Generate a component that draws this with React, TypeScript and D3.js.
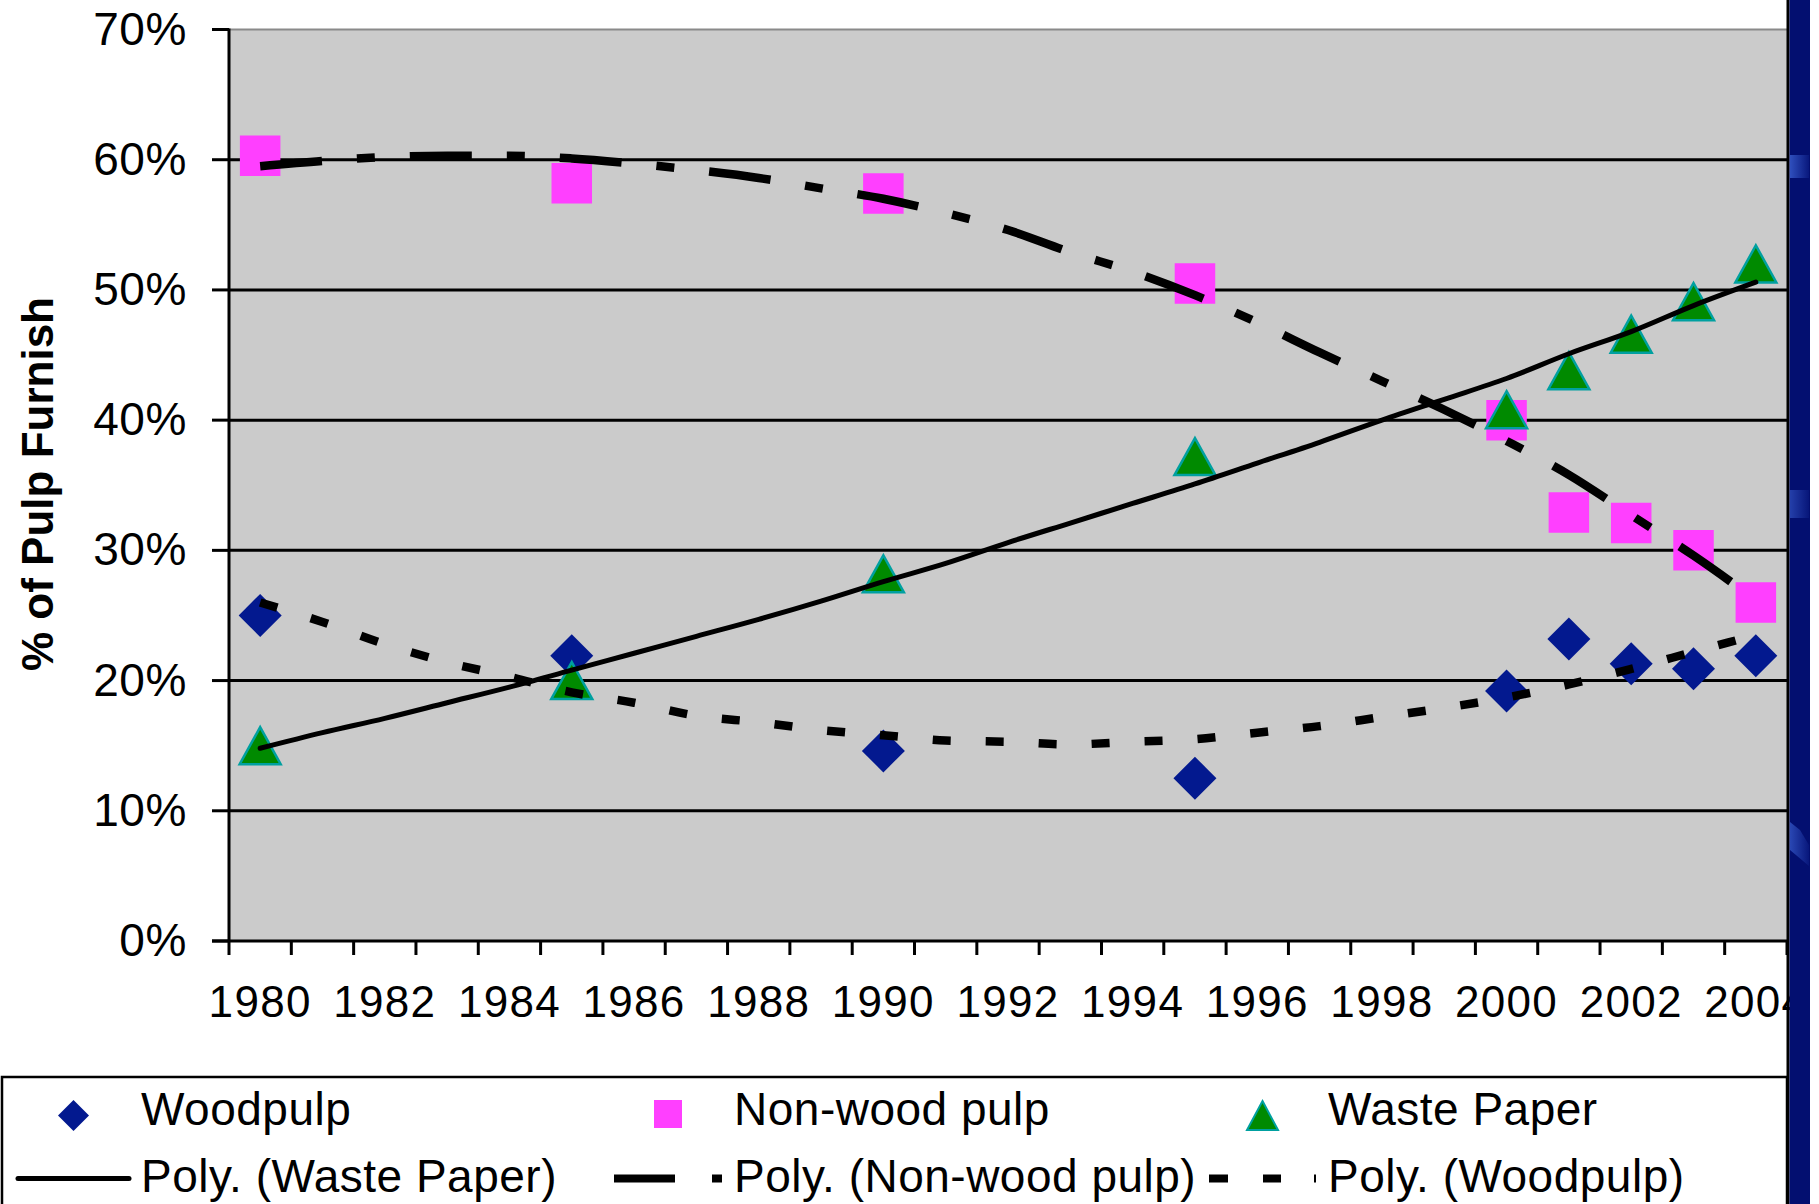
import React from 'react';
import * as d3 from 'd3';

const years = [1980, 1981, 1982, 1983, 1984, 1985, 1986, 1987, 1988, 1989, 1990, 1991, 1992, 1993, 1994, 1995, 1996, 1997, 1998, 1999, 2000, 2001, 2002, 2003, 2004];
const tickYears = [1980, 1982, 1984, 1986, 1988, 1990, 1992, 1994, 1996, 1998, 2000, 2002, 2004];
const yTicks = [0, 0.1, 0.2, 0.3, 0.4, 0.5, 0.6, 0.7];

const pointYears = [1980, 1985, 1990, 1995, 2000, 2001, 2002, 2003, 2004];
const woodpulp = [25.0, 21.9, 14.6, 12.5, 19.2, 23.2, 21.3, 20.9, 21.9];
const nonWood = [60.3, 58.2, 57.4, 50.5, 40.0, 32.9, 32.1, 30.0, 26.0];
const wastePaper = [15.0, 20.0, 28.2, 37.2, 40.8, 43.8, 46.6, 49.1, 52.0];

// trendline values, one per year 1980..2004
const trendWaste = [14.8, 16.0, 17.1, 18.3, 19.5, 20.8, 22.1, 23.4, 24.7, 26.1, 27.6, 29.0, 30.6, 32.1, 33.6, 35.1, 36.7, 38.3, 40.0, 41.6, 43.2, 45.1, 46.8, 48.8, 50.6];
const trendNonWood = [59.5, 59.9, 60.2, 60.3, 60.3, 60.1, 59.7, 59.2, 58.6, 57.8, 57.0, 55.9, 54.6, 52.9, 51.4, 49.6, 47.5, 45.2, 43.0, 40.8, 38.4, 35.8, 32.7, 29.6, 26.2];
const trendWood = [26.0, 24.5, 22.8, 21.4, 20.3, 19.1, 18.3, 17.3, 16.8, 16.2, 15.8, 15.4, 15.3, 15.1, 15.3, 15.5, 16.0, 16.5, 17.2, 17.9, 18.7, 19.7, 20.9, 22.2, 23.5];

const legendRow1 = ['Woodpulp', 'Non-wood pulp', 'Waste Paper'];
const legendRow2 = ['Poly. (Waste Paper)', 'Poly. (Non-wood pulp)', 'Poly. (Woodpulp)'];

const NAVY = '#03198f';
const MAGENTA = '#ff3fff';
const GREEN = '#008a00';
const TEAL = '#00a0a0';
const FONT = '"Liberation Sans", Arial, Helvetica, sans-serif';

const diamondPath = (cx: number, cy: number, r: number) =>
  `M${cx},${cy - r}L${cx + r},${cy}L${cx},${cy + r}L${cx - r},${cy}Z`;
const squarePath = (cx: number, cy: number, s: number) =>
  `M${cx - s / 2},${cy - s / 2}h${s}v${s}h${-s}Z`;
const trianglePath = (cx: number, cy: number, w: number, h: number) =>
  `M${cx},${cy - h / 2}L${cx + w / 2},${cy + h / 2}L${cx - w / 2},${cy + h / 2}Z`;

export default function App() {
  const W = 1819;
  const H = 1204;
  const left = 229;
  const right = 1787;
  const top = 29.5;
  const bottom = 941;

  const x = d3.scaleBand<number>().domain(years).range([left, right]).padding(0);
  const cx = (yr: number) => (x(yr) as number) + x.bandwidth() / 2;
  const y = d3.scaleLinear().domain([0, 0.7]).range([bottom, top]);

  const line = d3
    .line<number>()
    .x((_, i) => cx(years[i]))
    .y((d) => y(d / 100))
    .curve(d3.curveMonotoneX);

  const boundaries = years.map((yr) => x(yr) as number).concat([right]);

  const sampleStart = [18, 614, 1209];
  const sampleEnd = [129, 722, 1316];
  const textX = [141, 734, 1328];

  return (
    <svg
      width={W}
      height={H}
      viewBox={`0 0 ${W} ${H}`}
      style={{ position: 'absolute', left: 0, top: 0, background: '#fff' }}
    >
      <defs>
        <linearGradient id="hl" x1="0" x2="1" y1="0" y2="0">
          <stop offset="0" stopColor="#3a5fd0" />
          <stop offset="1" stopColor="#0a1a80" />
        </linearGradient>
      </defs>
      <rect x={0} y={0} width={W} height={H} fill="#fff" />

      {/* plot area */}
      <rect x={left} y={top} width={right - left} height={bottom - top} fill="#cbcbcb" />
      <line x1={left} x2={right} y1={top} y2={top} stroke="#8a8a8a" strokeWidth={2} />
      {yTicks.filter((t) => t > 0 && t < 0.7).map((t) => (
        <line key={t} x1={left} x2={right} y1={y(t)} y2={y(t)} stroke="#000" strokeWidth={3} />
      ))}

      {/* y axis */}
      <line x1={left} x2={left} y1={top - 1} y2={bottom + 1} stroke="#000" strokeWidth={3} />
      {yTicks.map((t) => (
        <g key={t}>
          <line x1={212} x2={left} y1={y(t)} y2={y(t)} stroke="#000" strokeWidth={3} />
          <text x={187} y={y(t) + 15} textAnchor="end" fontFamily={FONT} fontSize={46} letterSpacing={0.6} fill="#000">
            {`${Math.round(t * 100)}%`}
          </text>
        </g>
      ))}

      {/* x axis */}
      <line x1={212} x2={right} y1={bottom} y2={bottom} stroke="#000" strokeWidth={3} />
      {boundaries.map((b, i) => (
        <line key={i} x1={b} x2={b} y1={bottom} y2={bottom + 14} stroke="#000" strokeWidth={3} />
      ))}

      {/* markers */}
      {pointYears.map((yr, i) => (
        <path key={'w' + yr} d={diamondPath(cx(yr), y(woodpulp[i] / 100), 21.5)} fill={NAVY} />
      ))}
      {pointYears.map((yr, i) => (
        <path key={'n' + yr} d={squarePath(cx(yr), y(nonWood[i] / 100), 40.5)} fill={MAGENTA} />
      ))}
      {pointYears.map((yr, i) => (
        <path
          key={'p' + yr}
          d={trianglePath(cx(yr), y(wastePaper[i] / 100), 41, 37)}
          fill={GREEN}
          stroke={TEAL}
          strokeWidth={2.5}
          strokeLinejoin="miter"
        />
      ))}

      {/* trendlines */}
      <path d={line(trendWaste) || ''} fill="none" stroke="#000" strokeWidth={5} strokeLinecap="round" />
      <path d={line(trendNonWood) || ''} fill="none" stroke="#000" strokeWidth={8.5} strokeDasharray="62 35 18 35" />
      <path d={line(trendWood) || ''} fill="none" stroke="#000" strokeWidth={8.5} strokeDasharray="18 35" />

      {/* x tick labels */}
      {tickYears.map((yr) => (
        <text key={yr} x={cx(yr)} y={1017} textAnchor="middle" fontFamily={FONT} fontSize={44} letterSpacing={1.3} fill="#000">
          {yr}
        </text>
      ))}

      {/* y title */}
      <text
        transform={`translate(53,484) rotate(-90)`}
        textAnchor="middle"
        fontFamily={FONT}
        fontSize={44}
        fontWeight="bold"
        fill="#000"
      >
        % of Pulp Furnish
      </text>

      {/* legend */}
      <rect x={2} y={1077} width={right - 2} height={200} fill="none" stroke="#000" strokeWidth={2.5} />
      <path d={diamondPath((sampleStart[0] + sampleEnd[0]) / 2, 1115.5, 15.5)} fill={NAVY} />
      <path d={squarePath((sampleStart[1] + sampleEnd[1]) / 2, 1114, 28)} fill={MAGENTA} />
      <path
        d={trianglePath((sampleStart[2] + sampleEnd[2]) / 2, 1115.5, 31, 29)}
        fill={GREEN}
        stroke={TEAL}
        strokeWidth={2}
      />
      {legendRow1.map((t, i) => (
        <text key={t} x={textX[i]} y={1125} fontFamily={FONT} fontSize={46} letterSpacing={0.5} fill="#000">
          {t}
        </text>
      ))}
      <line x1={sampleStart[0]} x2={sampleEnd[0]} y1={1178.5} y2={1178.5} stroke="#000" strokeWidth={5} strokeLinecap="round" />
      <line x1={sampleStart[1]} x2={sampleEnd[1]} y1={1178.5} y2={1178.5} stroke="#000" strokeWidth={8} strokeDasharray="61 37 10 200" />
      <line x1={sampleStart[2]} x2={sampleEnd[2]} y1={1178.5} y2={1178.5} stroke="#000" strokeWidth={8} strokeDasharray="19 35 18 33 2 100" />
      {legendRow2.map((t, i) => (
        <text key={t} x={textX[i]} y={1192} fontFamily={FONT} fontSize={46} letterSpacing={0.5} fill="#000">
          {t}
        </text>
      ))}

      {/* right-hand slide bar */}
      <rect x={1786.5} y={0} width={3} height={H} fill="#000" />
      <rect x={1789.5} y={0} width={20.5} height={H} fill="#030f70" />
      <rect x={1790} y={155} width={19} height={23} fill="url(#hl)" opacity={0.8} />
      <rect x={1790} y={490} width={19} height={28} fill="url(#hl)" opacity={0.6} />
      <path d="M1790,822 L1800,830 L1809,845 L1809,866 L1790,850 Z" fill="url(#hl)" opacity={0.7} />
    </svg>
  );
}
